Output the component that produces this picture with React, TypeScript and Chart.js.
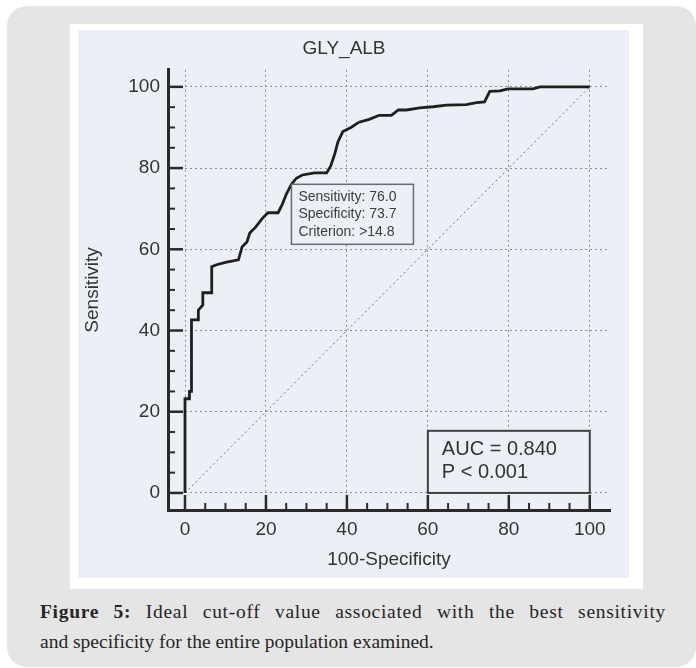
import React, { useEffect, useRef } from "react";
import { Chart, registerables } from "chart.js";

Chart.register(...registerables);

// ---------- data ----------
const TITLE = "GLY_ALB";
const X_LABEL = "100-Specificity";
const Y_LABEL = "Sensitivity";

const ROC_X = [0, 0, 1.1, 1.1, 1.6, 1.6, 3.3, 3.3, 4.4, 4.4, 6.6, 6.6, 7.8, 10.0, 13.2, 14.1, 15.3, 16.0, 17.5, 19.0, 20.5, 23.0, 24.0, 25.0, 26.3, 27.5, 29.0, 32.0, 35.0, 36.0, 37.0, 37.8, 39.0, 41.0, 43.0, 45.5, 48.0, 51.0, 52.7, 54.7, 58.0, 61.3, 64.6, 69.5, 72.0, 74.0, 75.3, 77.8, 79.8, 86.0, 87.7, 100];
const ROC_Y = [0, 23.2, 23.2, 25.0, 25.0, 42.6, 42.6, 45.0, 46.3, 49.3, 49.3, 55.7, 56.2, 56.8, 57.4, 60.6, 61.8, 64.0, 65.5, 67.5, 69.0, 69.0, 71.0, 73.5, 76.0, 77.5, 78.3, 78.8, 78.8, 80.5, 83.5, 86.5, 89.0, 90.0, 91.3, 92.0, 93.0, 93.0, 94.3, 94.3, 94.8, 95.1, 95.5, 95.6, 96.1, 96.3, 98.9, 99.0, 99.5, 99.5, 100, 100];

const DIAG_X = [0, 100];
const DIAG_Y = [0, 100];

const MAJOR_TICKS = [0, 20, 40, 60, 80, 100];
const MINOR_STEP = 5;

const CUTOFF_POINT = [26.3, 76.0];
const CUTOFF_LINES = ["Sensitivity: 76.0", "Specificity: 73.7", "Criterion: >14.8"];

const AUC_BOX = [60, 100, 0, 15.3]; // x from, x to, y from, y to
const AUC_LINES = ["AUC = 0.840", "P < 0.001"];

const CAPTION_BOLD = "Figure 5:";
const CAPTION_LINE1 = " Ideal cut-off value associated with the best sensitivity";
const CAPTION_LINE2 = "and specificity for the entire population examined.";

// ---------- styles ----------
const SANS = "'Liberation Sans', Arial, sans-serif";
const PLOT_BG = "#edeff7";
const TEXT = "#333333";

const tickValues: number[] = [];
for (let v = MAJOR_TICKS[0]; v <= MAJOR_TICKS[MAJOR_TICKS.length - 1]; v += MINOR_STEP) tickValues.push(v);

const overlayPlugin = {
  id: "rocOverlay",
  afterDatasetsDraw(chart: any) {
    const { ctx, scales, chartArea } = chart;
    const xs = scales.x;
    const ys = scales.y;
    ctx.save();
    // cutoff label box
    const bx = xs.getPixelForValue(CUTOFF_POINT[0]);
    const by = ys.getPixelForValue(CUTOFF_POINT[1]);
    const bw = 122;
    const bh = 60;
    ctx.fillStyle = PLOT_BG;
    ctx.fillRect(bx, by, bw, bh);
    ctx.strokeStyle = "#6a6a70";
    ctx.lineWidth = 1.5;
    ctx.strokeRect(bx, by, bw, bh);
    ctx.fillStyle = "#3c3c3c";
    ctx.font = `14px ${SANS}`;
    ctx.textBaseline = "middle";
    ctx.textAlign = "left";
    CUTOFF_LINES.forEach((t, i) => ctx.fillText(t, bx + 7, by + 12.5 + i * 17.5));

    // AUC box
    const ax0 = xs.getPixelForValue(AUC_BOX[0]);
    const ax1 = xs.getPixelForValue(AUC_BOX[1]);
    const ay0 = ys.getPixelForValue(AUC_BOX[2]);
    const ay1 = ys.getPixelForValue(AUC_BOX[3]);
    ctx.fillStyle = PLOT_BG;
    ctx.fillRect(ax0, ay1, ax1 - ax0, ay0 - ay1);
    ctx.strokeStyle = "#404040";
    ctx.lineWidth = 2;
    ctx.strokeRect(ax0, ay1, ax1 - ax0, ay0 - ay1);
    ctx.fillStyle = TEXT;
    ctx.font = `20px ${SANS}`;
    AUC_LINES.forEach((t, i) => ctx.fillText(t, ax0 + 14, ay1 + 19 + i * 23));

    // inward tick marks
    ctx.strokeStyle = "#2a2a2a";
    tickValues.forEach((v) => {
      const major = MAJOR_TICKS.includes(v);
      const len = major ? 15 : 7;
      ctx.lineWidth = major ? 2.5 : 2;
      const px = xs.getPixelForValue(v);
      ctx.beginPath();
      ctx.moveTo(px, chartArea.bottom);
      ctx.lineTo(px, chartArea.bottom - len);
      ctx.stroke();
      const py = ys.getPixelForValue(v);
      ctx.beginPath();
      ctx.moveTo(chartArea.left, py);
      ctx.lineTo(chartArea.left + len, py);
      ctx.stroke();
    });
    ctx.restore();
  },
};

function ChartCanvas() {
  const ref = useRef<HTMLCanvasElement | null>(null);
  useEffect(() => {
    if (!ref.current) return;
    const gridColor = (c: any) =>
      c.tick && MAJOR_TICKS.includes(c.tick.value) ? "#8c8ca0" : "rgba(0,0,0,0)";
    const tickFont = { family: SANS, size: 19 };
    const chart = new Chart(ref.current, {
      type: "scatter",
      data: {
        datasets: [
          {
            label: "ROC",
            data: ROC_X.map((x, i) => ({ x, y: ROC_Y[i] })),
            showLine: true,
            borderColor: "#1f1f1f",
            borderWidth: 2.8,
            pointRadius: 0,
            tension: 0,
          },
          {
            label: "Reference",
            data: DIAG_X.map((x, i) => ({ x, y: DIAG_Y[i] })),
            showLine: true,
            borderColor: "#707078",
            borderWidth: 1,
            borderDash: [2, 3],
            pointRadius: 0,
          },
        ],
      },
      options: {
        animation: false,
        responsive: false,
        devicePixelRatio: 1,
        events: [],
        layout: { padding: { left: 0, top: 0, right: 19, bottom: 0 } },
        plugins: {
          legend: { display: false },
          tooltip: { enabled: false },
          title: {
            display: true,
            text: TITLE,
            color: TEXT,
            font: { family: SANS, size: 19, weight: "normal" },
            padding: { top: 7, bottom: 10 },
          },
        },
        scales: {
          x: {
            type: "linear",
            min: -4.2,
            max: 105,
            afterBuildTicks: (s: any) => {
              s.ticks = tickValues.map((v) => ({ value: v }));
            },
            afterFit: (s: any) => {
              s.height = 68;
            },
            ticks: {
              autoSkip: false,
              maxRotation: 0,
              padding: 8,
              color: TEXT,
              font: tickFont,
              callback: (v: any) => (MAJOR_TICKS.includes(Number(v)) ? String(v) : ""),
            },
            grid: { color: gridColor, lineWidth: 1, drawTicks: false },
            border: { display: true, color: "#2a2a2a", width: 3, dash: [2, 3] },
            title: {
              display: true,
              text: X_LABEL,
              color: TEXT,
              font: { family: SANS, size: 19 },
              padding: { top: 0, bottom: 7 },
            },
          },
          y: {
            type: "linear",
            min: -4.2,
            max: 104.2,
            afterBuildTicks: (s: any) => {
              s.ticks = tickValues.map((v) => ({ value: v }));
            },
            afterFit: (s: any) => {
              s.width = 90;
            },
            ticks: {
              autoSkip: false,
              padding: 8,
              color: TEXT,
              font: tickFont,
              callback: (v: any) => (MAJOR_TICKS.includes(Number(v)) ? String(v) : ""),
            },
            grid: { color: gridColor, lineWidth: 1, drawTicks: false },
            border: { display: true, color: "#2a2a2a", width: 3, dash: [2, 3] },
            title: {
              display: true,
              text: Y_LABEL,
              color: TEXT,
              font: { family: SANS, size: 19 },
              padding: { top: 3, bottom: 0 },
            },
          },
        },
      },
      plugins: [overlayPlugin],
    } as any);
    return () => chart.destroy();
  }, []);
  return (
    <canvas
      ref={ref}
      width={551}
      height={548}
      style={{ position: "absolute", left: 78, top: 30, width: 551, height: 548, background: PLOT_BG }}
    />
  );
}

export default function App() {
  return (
    <div>
      <div
        style={{
          position: "absolute",
          left: 7,
          top: 6,
          width: 689,
          height: 661,
          background: "#e5e5e5",
          borderRadius: 20,
        }}
      />
      <div
        style={{
          position: "absolute",
          left: 70,
          top: 24,
          width: 573,
          height: 565,
          background: "#ffffff",
        }}
      />
      <ChartCanvas />
      <div
        style={{
          position: "absolute",
          left: 40,
          top: 597,
          width: 626,
          fontFamily: "'Liberation Serif', 'Times New Roman', serif",
          fontSize: 19.5,
          lineHeight: "30px",
          color: "#262626",
        }}
      >
        <div style={{ textAlign: "justify", textAlignLast: "justify", letterSpacing: "0.7px" } as any}>
          <b>{CAPTION_BOLD}</b>
          {CAPTION_LINE1}
        </div>
        <div>{CAPTION_LINE2}</div>
      </div>
    </div>
  );
}
